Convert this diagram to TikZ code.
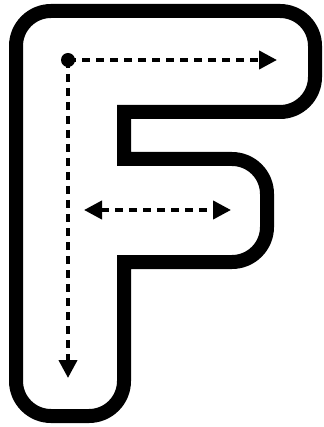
\documentclass[tikz,border=0pt]{standalone}
\usetikzlibrary{arrows.meta}
\begin{document}
\begin{tikzpicture}[x=1pt,y=-1pt,
  outline/.style={line width=14pt,line join=miter},
  guide/.style={line width=4pt,dash pattern=on 8pt off 6pt},
  tip/.style={-{Triangle[length=18pt,width=18pt]}},
  dtip/.style={{Triangle[length=18pt,width=18pt]}-{Triangle[length=18pt,width=18pt]}},
  startdot/.style={circle,fill=black,inner sep=0pt,minimum size=14pt}
]
\useasboundingbox (0,0) rectangle (323,427);
\fill[white] (0,0) rectangle (323,427);
\draw[outline] (16,200) -- (16,46) .. controls (16,26.7) and (31.7,11) .. (51,11)
  -- (280,11) .. controls (299.3,11) and (315,26.7) .. (315,46)
  -- (315,77) .. controls (315,96.3) and (299.3,112) .. (280,112)
  -- (124,112) -- (124,159) -- (232,159) .. controls (251.3,159) and (267,174.7) .. (267,194)
  -- (267,227) .. controls (267,246.3) and (251.3,262) .. (232,262)
  -- (124,262) -- (124,381) .. controls (124,400.3) and (108.3,416) .. (89,416)
  -- (51,416) .. controls (31.7,416) and (16,400.3) .. (16,381) -- cycle;
\node[startdot] (start) at (68,60) {};
\coordinate (hend) at (277,60);
\coordinate (vend) at (68,378);
\coordinate (ml) at (84,210);
\coordinate (mr) at (231,210);
\draw[guide,tip] (start.center) -- (hend);
\draw[guide,tip] (start.center) -- (vend);
\draw[guide,dtip] (ml) -- (mr);
\end{tikzpicture}
\end{document}
